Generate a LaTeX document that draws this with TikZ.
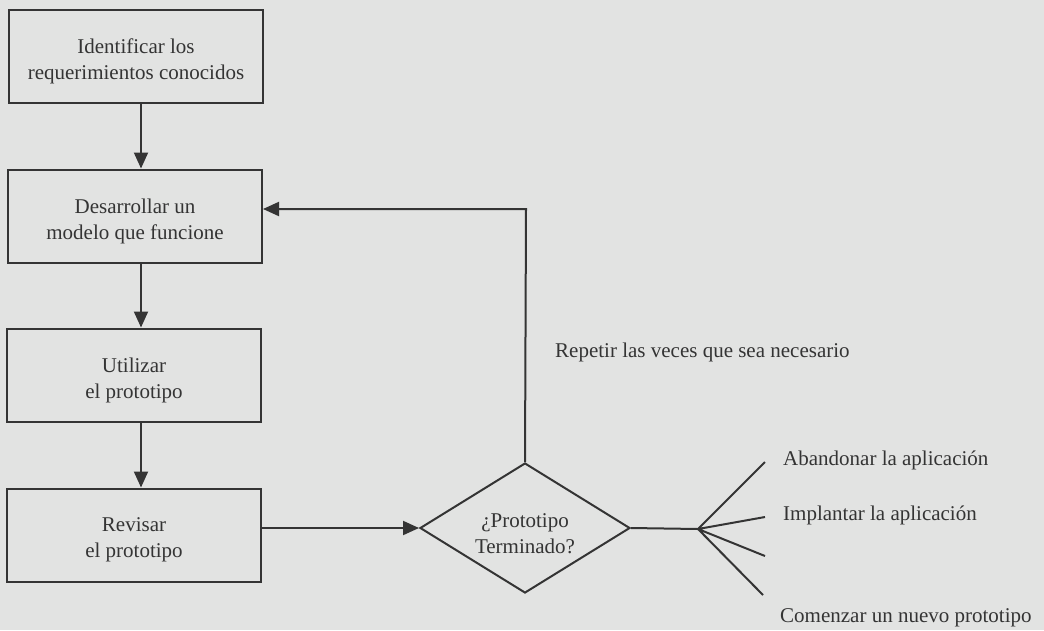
\documentclass[tikz,border=0pt]{standalone}
\usepackage{fontspec}
\setmainfont{Liberation Serif}
\usetikzlibrary{arrows.meta,shapes.geometric}
\definecolor{bg}{RGB}{226,227,226}
\definecolor{ink}{RGB}{52,52,52}
\begin{document}
\begin{tikzpicture}[x=1pt,y=-1pt,
  txt/.style={font=\fontsize{21}{26}\selectfont,text=ink},
  stepbox/.style={draw=ink,line width=2pt,minimum width=254pt,minimum height=93pt,inner sep=0pt},
  inside/.style={txt,align=center,inner sep=0pt,yshift=-5pt},
  conn/.style={draw=ink,line width=2pt},
  arr/.style={conn,-{Triangle[length=16pt,width=14pt]}},
  lbl/.style={txt,inner sep=0pt}]
\fill[bg] (0,0) rectangle (1044,630);
\useasboundingbox (0,0) rectangle (1044,630);
\node[stepbox] (b1) at (136,56) {};
\node[inside] (t1) at (b1) {Identificar los\\requerimientos conocidos};
\node[stepbox] (b2) at (135,216) {};
\node[inside] (t2) at (b2) {Desarrollar un\\modelo que funcione};
\node[stepbox] (b3) at (134,375) {};
\node[inside] (t3) at (b3) {Utilizar\\el prototipo};
\node[stepbox] (b4) at (134,535) {};
\node[inside] (t4) at (b4) {Revisar\\el prototipo};
\node[diamond,draw=ink,line width=2pt,minimum width=210pt,minimum height=130pt,inner sep=0pt,aspect=1.615] (d) at (525,528) {};
\node[inside,yshift=-1pt] (td) at (d) {¿Prototipo\\Terminado?};
\draw[arr] (b1.south -| 141,0) -- (b2.north -| 141,0);
\draw[arr] (b2.south -| 141,0) -- (b3.north -| 141,0);
\draw[arr] (b3.south -| 141,0) -- (b4.north -| 141,0);
\draw[arr] (b4.east |- d.west) -- (d.west);
\coordinate (up) at (526,209);
\draw[arr] (d.north) -- (up) -- (b2.east |- up);
\node[lbl,anchor=base west] (rep) at (555,357) {Repetir las veces que sea necesario};
\coordinate (f) at (698,529);
\coordinate (e1) at (765,462);
\coordinate (e2) at (765,517);
\coordinate (e3) at (765,556);
\coordinate (e4) at (763,595);
\draw[conn] (d.east) -- (f);
\draw[conn] (f) -- (e1) (f) -- (e2) (f) -- (e3) (f) -- (e4);
\node[lbl,anchor=base west] (l1) at (783,465) {Abandonar la aplicación};
\node[lbl,anchor=base west] (l2) at (783,520) {Implantar la aplicación};
\node[lbl,anchor=base west] (l3) at (780,622) {Comenzar un nuevo prototipo};
\end{tikzpicture}
\end{document}
